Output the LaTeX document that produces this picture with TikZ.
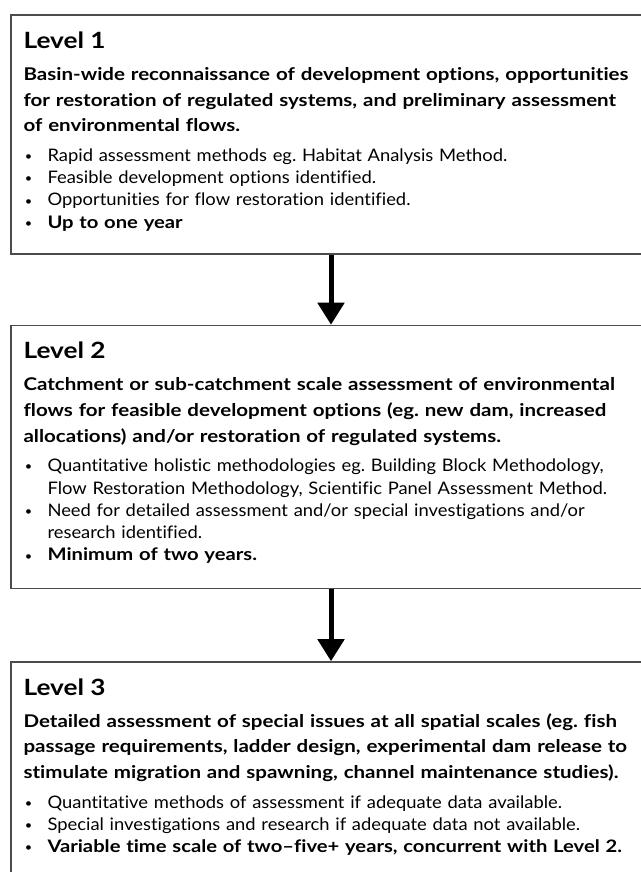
\documentclass[tikz,border=0pt]{standalone}
\usepackage{fontspec}
\setmainfont{Lato}[Ligatures={NoCommon}, UprightFeatures={FakeStretch=1.064},
  BoldFeatures={FakeStretch=1.17}]
\usetikzlibrary{arrows.meta,positioning,calc}

\newcommand{\bul}{\makebox[18pt][l]{\hspace{1pt}\raisebox{0.6pt}{\fontsize{9}{9}\selectfont\textbullet}}}
\newcommand{\cont}{\hspace*{18pt}}

\begin{document}
\frenchspacing
\begin{tikzpicture}[
  x=0.75pt, y=-0.75pt,
  levelbox/.style={draw=black!70, line width=1.1pt, minimum width=480pt, inner sep=0pt},
  head/.style={font=\fontsize{16.8}{20}\selectfont\bfseries, anchor=base west, inner sep=0pt},
  desc/.style={font=\fontsize{13.15}{19.3}\selectfont\bfseries, text width=478pt,
    align=left, anchor=base west, inner sep=0pt},
  items/.style={font=\fontsize{12.95}{16.7}\selectfont, text width=478pt,
    align=left, anchor=base west, inner sep=0pt},
  flow/.style={-{Triangle[width=19.5pt,length=16.5pt]}, line width=3.75pt}
]
  \useasboundingbox (0,0) rectangle (640,872);

  \node[levelbox, minimum height=179.25pt] (l1) at (331,134.5) {};
  \node[levelbox, minimum height=197.25pt, below=52.5pt of l1] (l2) {};
  \node[levelbox, minimum height=165.75pt, below=54pt of l2] (l3) {};

  % level 1
  \node[head] (l1head) at ($(l1.north west)+(13,34)$) {Level 1};
  \node[desc] (l1desc) at ($(l1.north west)+(13,66)$) {Basin-wide reconnaissance of development options, opportunities\\
    for restoration of regulated systems, and preliminary assessment\\
    of environmental flows.};
  \node[items] (l1list) at ($(l1.north west)+(13,147)$) {\bul Rapid assessment methods eg. Habitat Analysis Method.\\
    \bul Feasible development options identified.\\
    \bul Opportunities for flow restoration identified.\\
    \bul \textbf{Up to one year}};

  % level 2
  \node[head] (l2head) at ($(l2.north west)+(13,34)$) {Level 2};
  \node[desc] (l2desc) at ($(l2.north west)+(13,66)$) {Catchment or sub-catchment scale assessment of environmental\\
    flows for feasible development options (eg. new dam, increased\\
    allocations) and/or restoration of regulated systems.};
  \node[items] (l2list) at ($(l2.north west)+(13,147)$) {\bul Quantitative holistic methodologies eg. Building Block Methodology,\\
    \cont Flow Restoration Methodology, Scientific Panel Assessment Method.\\
    \bul Need for detailed assessment and/or special investigations and/or\\
    \cont research identified.\\
    \bul \textbf{Minimum of two years.}};

  % level 3
  \node[head] (l3head) at ($(l3.north west)+(13,34)$) {Level 3};
  \node[desc] (l3desc) at ($(l3.north west)+(13,66)$) {Detailed assessment of special issues at all spatial scales (eg. fish\\
    passage requirements, ladder design, experimental dam release to\\
    stimulate migration and spawning, channel maintenance studies).};
  \node[items] (l3list) at ($(l3.north west)+(13,147)$) {\bul Quantitative methods of assessment if adequate data available.\\
    \bul Special investigations and research if adequate data not available.\\
    \bul \textbf{Variable time scale of two--five+ years, concurrent with Level 2.}};

  \draw[flow] (l1) -- (l2);
  \draw[flow] (l2) -- (l3);
\end{tikzpicture}
\end{document}
